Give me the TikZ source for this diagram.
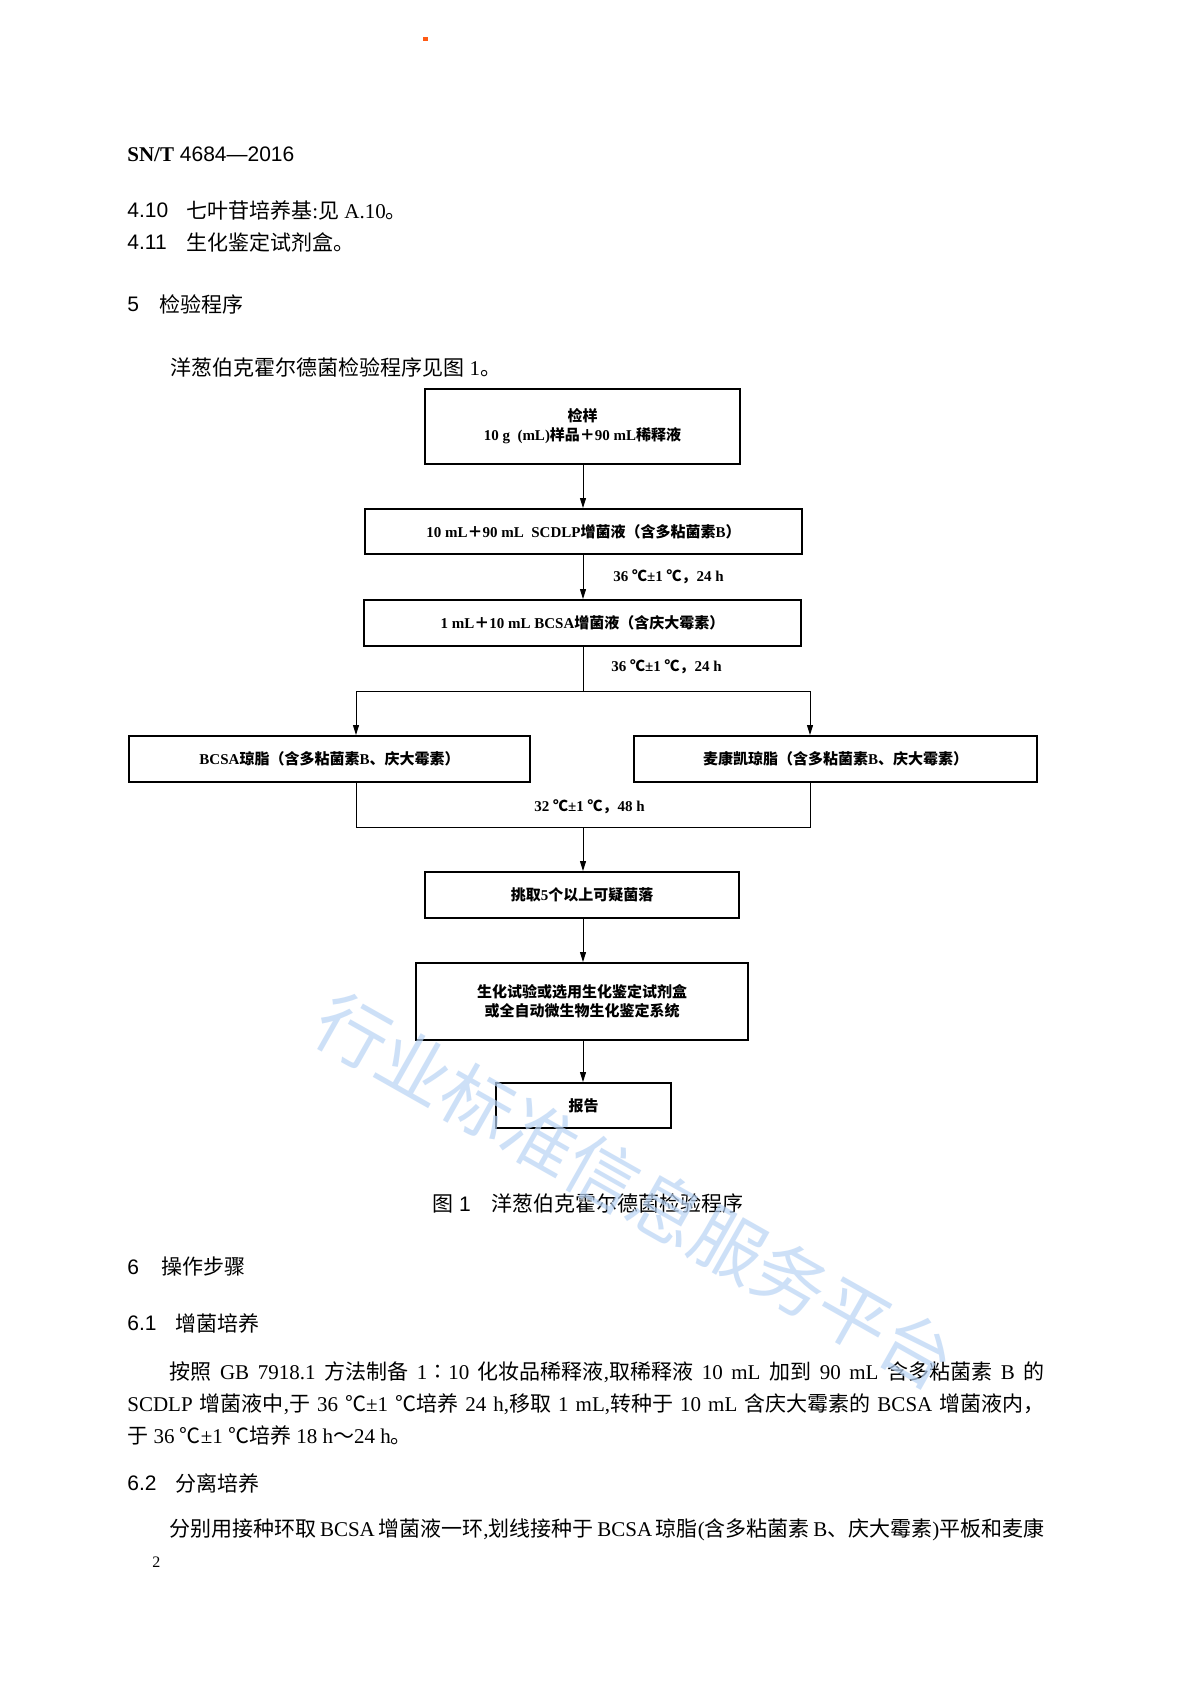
\documentclass[tikz,border=0pt]{standalone}
\usepackage{fontspec}
\setmainfont{Liberation Serif}
\setsansfont{Liberation Sans}
\newfontfamily\cjk{Noto Sans CJK SC}
\usetikzlibrary{arrows.meta}
\definecolor{wmark}{RGB}{185,212,245}
\definecolor{dotorange}{RGB}{255,90,20}
\newcommand{\latinback}{\rmfamily}
\XeTeXinterchartokenstate=1
\newXeTeXintercharclass\cjkclass
\newcount\cjkcode
\newcommand{\cjkrange}[2]{%
  \cjkcode=#1
  \loop\XeTeXcharclass\cjkcode=\cjkclass
    \ifnum\cjkcode<#2 \advance\cjkcode by 1 \repeat}
\cjkrange{"3000}{"303F}
\cjkrange{"4E00}{"9FFF}
\cjkrange{"FF00}{"FFEF}
\XeTeXcharclass"2103=\cjkclass
\XeTeXcharclass"2236=\cjkclass
\XeTeXinterchartoks 0 \cjkclass={\cjk}
\XeTeXinterchartoks 4095 \cjkclass={\cjk}
\XeTeXinterchartoks \cjkclass 0={\latinback}
\XeTeXinterchartoks \cjkclass 4095={\latinback}

\begin{document}
\begin{tikzpicture}[x=0.5pt, y=-0.5pt,
    box/.style={draw, line width=1pt, inner sep=0pt, align=center, font=\fontsize{7.5}{9.5}\selectfont\bfseries},
    boxsize/.style 2 args={minimum width=#1*0.5pt, minimum height=#2*0.5pt},
    cond/.style={inner sep=0pt, font=\fontsize{7.5}{9}\selectfont\bfseries},
    link/.style={line width=0.5pt},
    arr/.style={link, -{Stealth[length=5pt, width=3pt, inset=0pt]}},
    body/.style={anchor=west, inner sep=0pt, font=\fontsize{10.5}{12}\selectfont},
    head/.style={anchor=west, inner sep=0pt, font=\fontsize{10.5}{12}\selectfont\sffamily\let\latinback\sffamily}]
    \fill[white] (0,0) rectangle (1190,1683);
    \useasboundingbox (0,0) rectangle (1190,1683);
    \fill[dotorange] (423,37) rectangle (428,41);
    \node[head] (code) at (127,154) {{\rmfamily\bfseries SN/T} 4684—2016};
    \foreach \i/\y/\num in {n410/210/4.10, n411/242/4.11, n5/304/5, n6/1267/6, n61/1323/6.1, n62/1483/6.2}
      \node[head] (\i) at (127,\y) {\num};
    \node[body] (t410) at (186,210) {七叶苷培养基:见 A.10。};
    \node[body] (t411) at (186,242) {生化鉴定试剂盒。};
    \node[head] (t5) at (159,304) {检验程序};
    \node[body] (intro) at (170,367) {洋葱伯克霍尔德菌检验程序见图 1。};

    \node[box, boxsize={315}{75}] (sample) at (582.5,426.5) {检样\\10 g~~(mL)样品＋90 mL稀释液};
    \node[box, boxsize={437}{45}] (scdlp) at (583.5,531.5) {10 mL＋90 mL~~SCDLP增菌液（含多粘菌素B）};
    \node[box, boxsize={437}{46}] (bcsa) at (582.5,623) {1 mL＋10 mL BCSA增菌液（含庆大霉素）};
    \node[box, boxsize={401}{46}] (agarL) at (329.5,759) {BCSA琼脂（含多粘菌素B、庆大霉素）};
    \node[box, boxsize={403}{46}] (agarR) at (835.5,759) {麦康凯琼脂（含多粘菌素B、庆大霉素）};
    \node[box, boxsize={314}{46}] (pick) at (582,895) {挑取5个以上可疑菌落};
    \node[box, boxsize={332}{77}] (ident) at (582,1001.5) {生化试验或选用生化鉴定试剂盒\\或全自动微生物生化鉴定系统};
    \node[box, boxsize={175}{45}] (report) at (583.5,1105.5) {报告};
    \node[cond, anchor=west] (inc1) at (613,577) {36 ℃±1 ℃，24 h};
    \node[cond, anchor=west] (inc2) at (611,667) {36 ℃±1 ℃，24 h};
    \node[cond] (inc3) at (589.5,807) {32 ℃±1 ℃，48 h};

    \coordinate (spine) at (583,0);
    \coordinate (forkL) at (356,691);
    \coordinate (forkR) at (810,691);
    \coordinate (joinL) at (356,827);
    \coordinate (joinR) at (810,827);
    \draw[arr] (spine |- sample.south) -- (spine |- scdlp.north);
    \draw[arr] (spine |- scdlp.south) -- (spine |- bcsa.north);
    \draw[link] (spine |- bcsa.south) -- (spine |- forkL);
    \draw[link] (forkL) -- (forkR);
    \draw[arr] (forkL) -- (forkL |- agarL.north);
    \draw[arr] (forkR) -- (forkR |- agarR.north);
    \draw[link] (forkL |- agarL.south) -- (joinL) -- (joinR) -- (forkR |- agarR.south);
    \draw[arr] (spine |- joinL) -- (spine |- pick.north);
    \draw[arr] (spine |- pick.south) -- (spine |- ident.north);
    \draw[arr] (spine |- ident.south) -- (spine |- report.north);

    \node[head, anchor=center] (caption) at (588,1203) {图 1\quad 洋葱伯克霍尔德菌检验程序};
    \node[head] (t6) at (161,1267) {操作步骤};
    \node[head] (t61) at (175,1323) {增菌培养};
    \node[body] (p1) at (169,1372) {\makebox[437.5pt][s]{按照 GB 7918.1 方法制备 1∶10 化妆品稀释液,取稀释液 10 mL 加到 90 mL 含多粘菌素 B 的}};
    \node[body] (p2) at (127,1404) {\makebox[458.5pt][s]{SCDLP 增菌液中,于 36 ℃±1 ℃培养 24 h,移取 1 mL,转种于 10 mL 含庆大霉素的 BCSA 增菌液内，}};
    \node[body] (p3) at (127,1435) {于 36 ℃±1 ℃培养 18 h～24 h。};
    \node[head] (t62) at (175,1483) {分离培养};
    \node[body] (p4) at (169,1530) {\makebox[437.5pt][s]{分别用接种环取 BCSA 增菌液一环,划线接种于 BCSA 琼脂(含多粘菌素 B、庆大霉素)平板和麦康}};
    \node[body, font=\fontsize{8}{9}\selectfont] (page) at (152,1562) {2};

    \node[rotate=-29.5, text=wmark, opacity=0.7, inner sep=0pt, font=\fontsize{36}{36}\selectfont] (wm) at (635,1191) {行业标准信息服务平台};
\end{tikzpicture}
\end{document}
